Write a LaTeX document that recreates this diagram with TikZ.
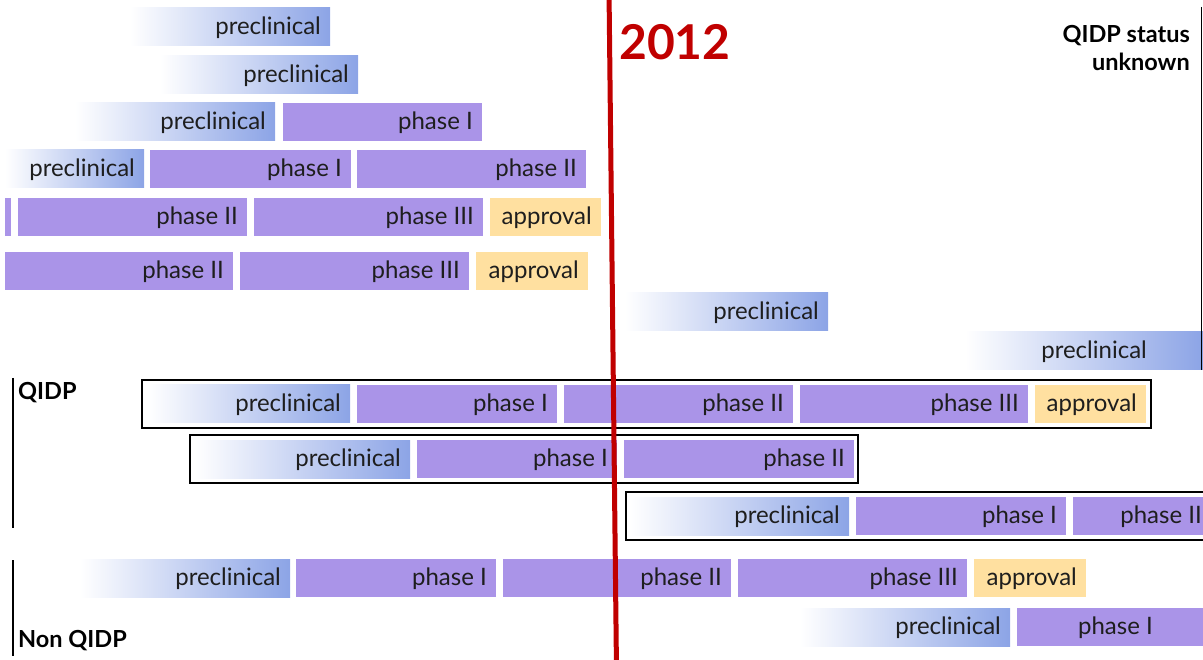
\documentclass[tikz,border=0pt]{standalone}
\usepackage{fontspec}
\setmainfont{Lato}
\usetikzlibrary{calc}
\definecolor{preblue}{RGB}{140,164,230}
\definecolor{phasepurple}{RGB}{170,148,232}
\definecolor{apprgold}{RGB}{255,224,160}
\definecolor{markred}{RGB}{192,0,0}
\definecolor{inkgray}{RGB}{30,30,30}
\tikzset{
  pre/.style={left color=white, right color=preblue},
  phase/.style={fill=phasepurple},
  appr/.style={fill=apprgold},
  lbl/.style={anchor=east, inner sep=0pt, text=inkgray, font=\fontsize{24}{28}\selectfont},
  grouplbl/.style={anchor=west, inner sep=0pt, font=\bfseries\fontsize{23.5}{28}\selectfont},
  trialbox/.style={draw=black, line width=2pt}
}
\def\stagebar[#1](#2,#3)(#4)#5#6{\path[#1] (#2,#3) rectangle (#4,#3+38); \node[lbl] (#5) at (#4-9,#3+20) {#6};}

\begin{document}
\begin{tikzpicture}[x=1pt,y=-1pt]
		%%%%% START %%%%%
		\useasboundingbox (0,0) rectangle (1203,660);
		
		% before 2012
		\stagebar[pre](130,8)(330){r1pre}{preclinical}
		
		\stagebar[pre](160,56)(358){r2pre}{preclinical}
		
		\stagebar[pre](75,103)(275){r3pre}{preclinical}
		\stagebar[phase](283,103)(482){r3ph1}{phase I}
		
		\stagebar[pre](5,150)(144){r4pre}{preclinical}
		\stagebar[phase](150,150)(351){r4ph1}{phase I}
		\stagebar[phase](357,150)(586){r4ph2}{phase II}
		
		\fill[phase] (5,198) rectangle (11,236);
		\stagebar[phase](18,198)(247){r5ph2}{phase II}
		\stagebar[phase](254,198)(483){r5ph3}{phase III}
		\stagebar[appr](490,198)(601){r5app}{approval}
		
		\stagebar[phase](5,252)(233){r6ph2}{phase II}
		\stagebar[phase](240,252)(469){r6ph3}{phase III}
		\stagebar[appr](476,252)(588){r6app}{approval}
		
		% status unknown
		\stagebar[pre](625,293)(828){r7pre}{preclinical}
		
		\path[pre] (965,332) rectangle (1203,370);
		\node[lbl] (r8pre) at (1147,352) {preclinical};
		
		\node[anchor=north east, align=right, inner sep=0pt, font=\bfseries\fontsize{23.5}{28}\selectfont] (unknown) at (1190,25) {QIDP status\\unknown};
		\draw[line width=1.5pt] (1201.5,7) -- (1201.5,370);
		
		% QIDP
		\draw[trialbox] (142,380) rectangle (1151,428);
		\stagebar[pre](148,385)(350){r9pre}{preclinical}
		\stagebar[phase](357,385)(557){r9ph1}{phase I}
		\stagebar[phase](564,385)(793){r9ph2}{phase II}
		\stagebar[phase](800,385)(1028){r9ph3}{phase III}
		\stagebar[appr](1035,385)(1146){r9app}{approval}
		
		\draw[trialbox] (190,435) rectangle (858,483);
		\stagebar[pre](195,440)(410){r10pre}{preclinical}
		\stagebar[phase](417,440)(617){r10ph1}{phase I}
		\stagebar[phase](624,440)(854){r10ph2}{phase II}
		
		\draw[trialbox] (626,492) rectangle (1230,540);
		\stagebar[pre](630,497)(849){r11pre}{preclinical}
		\stagebar[phase](856,497)(1066){r11ph1}{phase I}
		\stagebar[phase](1073,497)(1211){r11ph2}{phase II}
		
		\draw[line width=2pt] (13,378) -- (13,528);
		\node[grouplbl] (qidp) at (18,393) {QIDP};
		
		% non QIDP
		\stagebar[pre](80,559)(290){r12pre}{preclinical}
		\stagebar[phase](296,559)(496){r12ph1}{phase I}
		\stagebar[phase](503,559)(731){r12ph2}{phase II}
		\stagebar[phase](738,559)(967){r12ph3}{phase III}
		\stagebar[appr](974,559)(1086){r12app}{approval}
		
		\stagebar[pre](800,608)(1010){r13pre}{preclinical}
		\path[phase] (1017,608) rectangle (1210,646);
		\node[lbl] (r13ph1) at (1153,628) {phase I};
		
		\draw[line width=2pt] (13,560) -- (13,656);
		\node[grouplbl] (nonqidp) at (18,641) {Non QIDP};
		
		% 2012
		\draw[markred, line width=5pt] (609,-10) -- (616.5,670);
		\node[anchor=west, inner sep=0pt, text=markred, font=\bfseries\fontsize{48}{56}\selectfont] (year) at (619,42) {2012};
		%%%%% END %%%%%
\end{tikzpicture}
\end{document}
